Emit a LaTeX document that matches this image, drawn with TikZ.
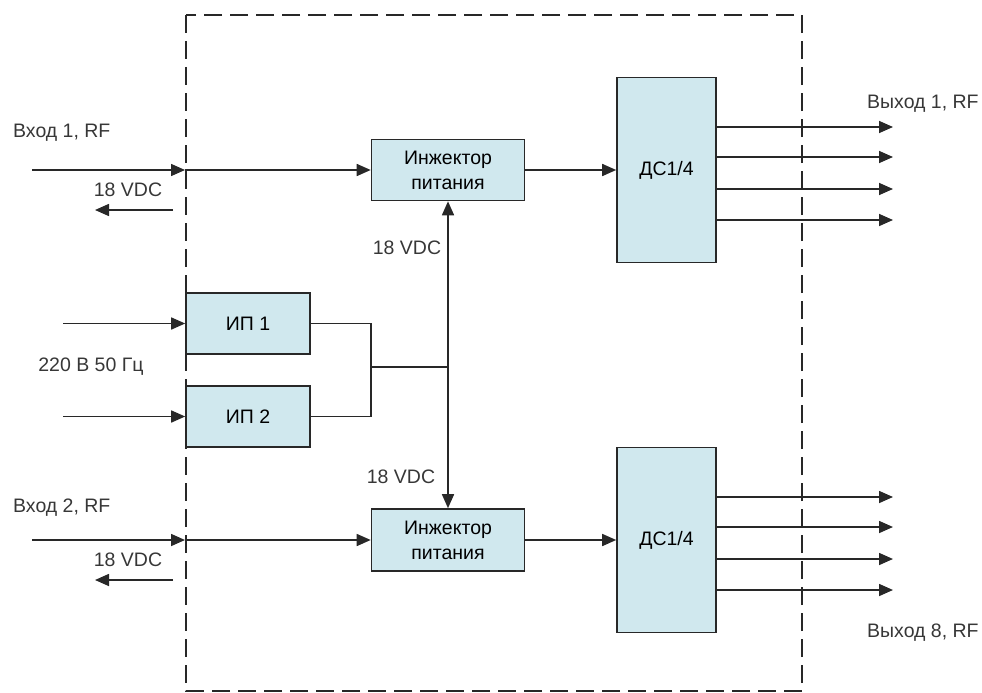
\documentclass[tikz,border=0pt]{standalone}
\usepackage{fontspec}
\setmainfont{Liberation Sans}
\usetikzlibrary{arrows.meta}
\usetikzlibrary{positioning}

\definecolor{boxfill}{RGB}{208,232,238}
\definecolor{linegray}{RGB}{40,40,40}
\definecolor{textgray}{RGB}{55,55,55}

\tikzset{
  blk/.style={draw=linegray,line width=1.6pt,fill=boxfill,inner sep=0pt,align=center},
  wire/.style={draw=linegray,line width=1.6pt},
  sig/.style={wire,-{Triangle[length=14pt,width=12pt]}},
  lbl/.style={inner sep=0pt,text=textgray}
}

\begin{document}
\begin{tikzpicture}[x=1pt,y=-1pt,font=\fontsize{19.5}{25}\selectfont]
\useasboundingbox (0,0) rectangle (982,693);

% housing
\draw[linegray,line width=1.8pt,dash pattern=on 18pt off 8pt] (186,15) rectangle (802,691);

\node[blk,minimum width=153pt,minimum height=61pt] (inj1) at (448,170) {Инжектор\\питания};
\node[blk,minimum width=153pt,minimum height=62pt] (inj2) at (448,540) {Инжектор\\питания};
\node[blk,minimum width=99pt,minimum height=185pt] (ds1) at (666.5,170) {ДС1/4};
\node[blk,minimum width=99pt,minimum height=185pt] (ds2) at (666.5,540) {ДС1/4};
\node[blk,minimum width=124pt,minimum height=61pt] (ip1) at (248,323.5) {ИП 1};
\node[blk,minimum width=124pt,minimum height=61pt] (ip2) at (248,416.5) {ИП 2};

% inputs
\coordinate (in1) at (32,170);
\coordinate (b1) at (185,170);
\coordinate (in2) at (32,540);
\coordinate (b2) at (185,540);
\draw[sig] (in1) -- (b1);
\draw[sig] (b1) -- (inj1.west);
\draw[sig] (in2) -- (b2);
\draw[sig] (b2) -- (inj2.west);

\coordinate (v1) at (173,210);
\coordinate (v1e) at (95,210);
\coordinate (v2) at (173,580);
\coordinate (v2e) at (95,580);
\draw[sig] (v1) -- (v1e);
\draw[sig] (v2) -- (v2e);

\coordinate (ac1) at (63,323.5);
\coordinate (ac2) at (63,416.5);
\draw[sig] (ac1) -- (ip1.west);
\draw[sig] (ac2) -- (ip2.west);

% power
\coordinate (j) at (371,367);
\draw[wire] (ip1.east) -| (j) |- (ip2.east);
\draw[wire] (j) -- (j -| inj1.south);
\draw[wire,{Triangle[length=14pt,width=12pt]}-{Triangle[length=14pt,width=12pt]}] (inj1.south) -- (inj2.north);

\draw[sig] (inj1.east) -- (ds1.west);
\draw[sig] (inj2.east) -- (ds2.west);

% outputs
\coordinate (outx) at (893,0);
\foreach \k/\dy in {1/43,2/13,3/-19,4/-50} {
  \draw[sig] ([yshift=\dy pt]ds1.east) coordinate (a\k) -- (a\k -| outx);
  \draw[sig] ([yshift=\dy pt]ds2.east) coordinate (c\k) -- (c\k -| outx);
}

\node[lbl,anchor=west] (inlbl1) at (13,133) {Вход 1, RF};
\node[lbl,anchor=west] (inlbl2) at (13,508) {Вход 2, RF};
\node[lbl] (vdc1) at (128,190) {18 VDC};
\node[lbl] (vdc2) at (128,560) {18 VDC};
\node[lbl] (vdc3) at (407,248) {18 VDC};
\node[lbl] (vdc4) at (401,477) {18 VDC};
\node[lbl] (ac) at (91,367) {220 В 50 Гц};
\node[lbl,anchor=west] (outlbl1) at (867,104) {Выход 1, RF};
\node[lbl,anchor=west] (outlbl8) at (867,633) {Выход 8, RF};
\end{tikzpicture}
\end{document}
